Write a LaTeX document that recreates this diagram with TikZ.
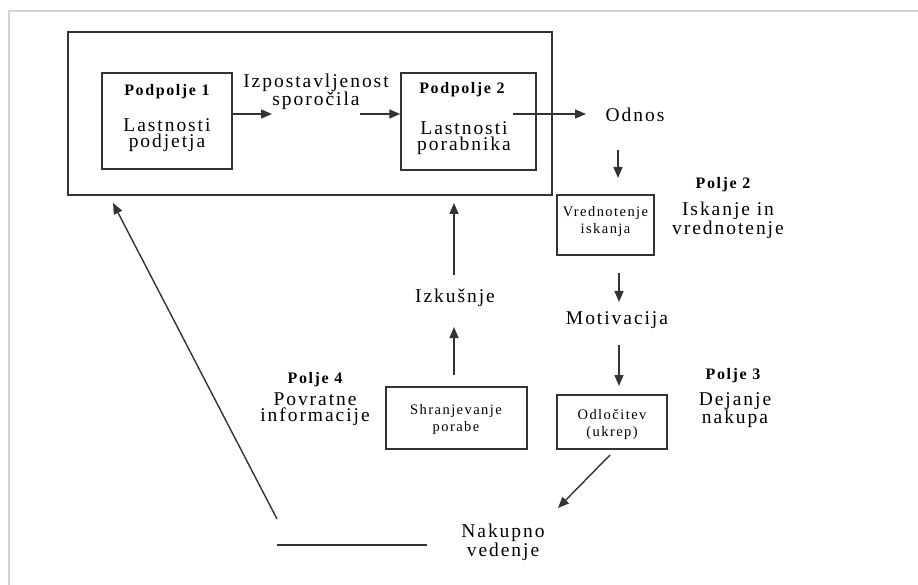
\documentclass[tikz,border=0pt]{standalone}
\usepackage{fontspec}
\setmainfont{Liberation Serif}[LetterSpace=10]
\usetikzlibrary{arrows.meta}
\definecolor{lc}{HTML}{333333}
\definecolor{fr}{HTML}{D4D4D4}
\begin{document}
\begin{tikzpicture}[x=1pt,y=-1pt,
  ln/.style={draw=lc, line width=1.4pt},
  arr/.style={ln, -{Triangle[length=11pt,width=9pt]}},
  bx/.style={draw=lc, line width=1.4pt, inner sep=0pt},
  big/.style={font=\fontsize{19.5}{16.5}\selectfont, align=center, inner sep=0pt},
  bld/.style={font=\fontsize{16}{16}\selectfont\bfseries, inner sep=0pt},
  sml/.style={font=\fontsize{14.5}{17}\selectfont, align=center, inner sep=0pt}]
\useasboundingbox (0,0) rectangle (918,585);
\draw[fr, line width=1.5pt] (9,585) -- (9,11) -- (918,11);
% boxes
\node[bx, minimum width=484pt, minimum height=163pt] (outer) at (310,113.5) {};
\node[bx, minimum width=130pt, minimum height=96pt] (b1) at (167,121) {};
\node[bx, minimum width=135pt, minimum height=97pt] (b2) at (468.5,121.5) {};
\node[bx, minimum width=97pt, minimum height=60pt] (b3) at (605.5,225) {};
\node[bx, minimum width=110pt, minimum height=54pt] (b4) at (612,422) {};
\node[bx, minimum width=141pt, minimum height=62pt] (b5) at (456.5,418) {};
% texts
\node[bld] (t1a) at (167,92) {Podpolje 1};
\node[big] (t1b) at (167,135) {Lastnosti\\podjetja};
\node[big, font=\fontsize{19.5}{18}\selectfont] (izp) at (316,92) {Izpostavljenost\\sporočila};
\node[bld] (t2a) at (462,90) {Podpolje 2};
\node[big] (t2b) at (464,138) {Lastnosti\\porabnika};
\node[big] (odnos) at (635,115) {Odnos};
\node[bld] (p2) at (723,185) {Polje 2};
\node[big] (p2t) at (728,220) {Iskanje in\\vrednotenje};
\node[sml] (b3t) at (605.5,222) {Vrednotenje\\iskanja};
\node[big] (motiv) at (617,320) {Motivacija};
\node[sml] (b4t) at (612,424) {Odločitev\\(ukrep)};
\node[bld] (p3) at (733,376) {Polje 3};
\node[big] (p3t) at (735,410) {Dejanje\\nakupa};
\node[sml] (b5t) at (456,420) {Shranjevanje\\porabe};
\node[bld] (p4) at (315,380) {Polje 4};
\node[big] (p4t) at (315,409) {Povratne\\informacije};
\node[big] (izk) at (455,298) {Izkušnje};
\node[big] (nak) at (503,542) {Nakupno\\vedenje};
% connector ends
\coordinate (a1e) at (272,114);
\coordinate (a2s) at (360,114);
\coordinate (a3s) at (513,114);
\coordinate (a3e) at (586,114);
\coordinate (a4s) at (618,150);
\coordinate (a4e) at (618,178);
\coordinate (a5s) at (619,273);
\coordinate (a5e) at (619,302);
\coordinate (a6s) at (619,345);
\coordinate (a6e) at (619,386);
\coordinate (a7s) at (610,455);
\coordinate (a7e) at (558,508);
\coordinate (a8s) at (454,375);
\coordinate (a8e) at (454,327);
\coordinate (a9s) at (454,275);
\coordinate (a9e) at (454,203);
\coordinate (l1s) at (427,545);
\coordinate (l1e) at (277,545);
\coordinate (l2s) at (277,519);
\coordinate (l2e) at (113,203);
% connectors
\draw[arr] (b1.east |- a1e) -- (a1e);
\draw[arr] (a2s) -- (b2.west |- a2s);
\draw[arr] (a3s) -- (a3e);
\draw[arr] (a4s) -- (a4e);
\draw[arr] (a5s) -- (a5e);
\draw[arr] (a6s) -- (a6e);
\draw[arr] (a7s) -- (a7e);
\draw[arr] (a8s) -- (a8e);
\draw[arr] (a9s) -- (a9e);
\draw[ln] (l1s) -- (l1e);
\draw[arr] (l2s) -- (l2e);
\end{tikzpicture}
\end{document}
